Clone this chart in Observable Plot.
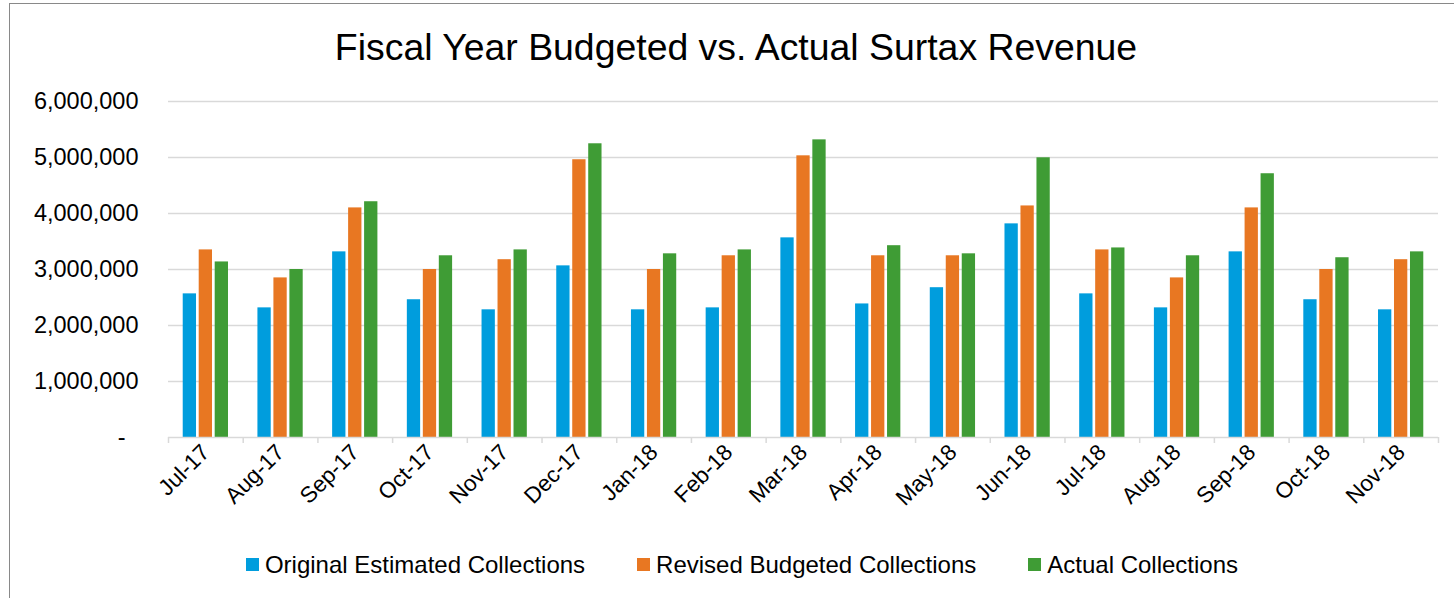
<!DOCTYPE html>
<html>
<head>
<meta charset="utf-8">
<script src="https://cdn.jsdelivr.net/npm/d3@7"></script>
<script src="https://cdn.jsdelivr.net/npm/@observablehq/plot@0.6"></script>
<style>
  html, body { margin: 0; padding: 0; background: #fff; }
  body { width: 1454px; height: 598px; position: relative; overflow: hidden; font-family: "Liberation Sans", Arial, sans-serif; }
  #box { position: absolute; left: 9px; top: 3px; width: 1480px; height: 620px; border: 1.5px solid #898989; box-sizing: border-box; }
  #title { position: absolute; left: 9px; width: 1454px; top: 29px; text-align: center; font-size: 37.4px; line-height: 36px; color: #000; }
  #chart { position: absolute; left: 0; top: 0; }
  #legend { position: absolute; left: 15px; width: 1454px; top: 553px; display: flex; justify-content: center; font-size: 24px; line-height: 23px; color: #000; }
  .item { display: flex; align-items: center; margin: 0 26px; }
  .sw { width: 13px; height: 13px; margin-right: 6px; }
</style>
</head>
<body>
<div id="box"></div>
<div id="title">Fiscal Year Budgeted vs. Actual Surtax Revenue</div>
<div id="chart"></div>
<div id="legend"></div>
<script>
const months = ["Jul-17","Aug-17","Sep-17","Oct-17","Nov-17","Dec-17","Jan-18","Feb-18","Mar-18","Apr-18","May-18","Jun-18","Jul-18","Aug-18","Sep-18","Oct-18","Nov-18"];
const seriesNames = ["Original Estimated Collections","Revised Budgeted Collections","Actual Collections"];
const seriesColors = ["#009ddd","#e87722","#3f9c35"];
const original = [2565000,2315000,3315000,2460000,2280000,3065000,2280000,2315000,3565000,2385000,2675000,3815000,2565000,2315000,3315000,2460000,2280000];
const revised  = [3350000,2850000,4100000,3000000,3175000,4960000,3000000,3245000,5030000,3245000,3245000,4135000,3350000,2850000,4100000,3000000,3175000];
const actual   = [3135000,3000000,4210000,3245000,3350000,5245000,3280000,3350000,5315000,3425000,3280000,4995000,3385000,3245000,4710000,3210000,3315000];
const yTicks = [0,1000000,2000000,3000000,4000000,5000000,6000000];

const seriesValues = [original, revised, actual];
const rows = [];
months.forEach((m, i) => {
  seriesValues.forEach((vals, s) => {
    rows.push({month: m, index: i, s, series: seriesNames[s], value: vals[i]});
  });
});

const groupStart = 0.197, barW = 0.178, gap = 0.036;

const chart = Plot.plot({
  width: 1454,
  height: 530,
  marginLeft: 168,
  marginRight: 16,
  marginTop: 101,
  marginBottom: 93,
  x: {domain: [0, months.length]},
  y: {domain: [0, 6000000]},
  color: {domain: seriesNames, range: seriesColors},
  style: {fontFamily: "'Liberation Sans', Arial, sans-serif", color: "#000", background: "transparent", overflow: "visible"},
  marks: [
    Plot.gridY(yTicks.slice(1), {stroke: "#d9d9d9", strokeOpacity: 1, strokeWidth: 1.3}),
    Plot.axisY(yTicks.slice(1), {tickSize: 0, tickPadding: 30, tickFormat: d3.format(","), fontSize: 23.5, label: null}),
    Plot.axisY([0], {tickSize: 0, tickPadding: 43, tickFormat: () => "-", fontSize: 23.5, label: null}),
    Plot.rectY(rows, {
      x1: d => d.index + groupStart + d.s * (barW + gap),
      x2: d => d.index + groupStart + d.s * (barW + gap) + barW,
      y: "value",
      fill: "series"
    }),
    Plot.ruleY([0], {stroke: "#d9d9d9", strokeWidth: 1.5}),
    Plot.axisX(d3.range(months.length + 1), {tickSize: 6, tickFormat: () => "", stroke: "#d9d9d9", strokeOpacity: 1, strokeWidth: 1.5, label: null}),
    Plot.axisX(months.map((d, i) => i + 0.5), {tickSize: 0, tickRotate: -45, tickPadding: 11, tickFormat: v => months[Math.floor(v)], fontSize: 22.5, label: null})
  ]
});
document.getElementById("chart").appendChild(chart);

const legend = document.getElementById("legend");
seriesNames.forEach((name, i) => {
  const item = document.createElement("div");
  item.className = "item";
  const sw = document.createElement("div");
  sw.className = "sw";
  sw.style.background = seriesColors[i];
  const label = document.createElement("span");
  label.textContent = name;
  item.appendChild(sw);
  item.appendChild(label);
  legend.appendChild(item);
});
</script>
</body>
</html>
